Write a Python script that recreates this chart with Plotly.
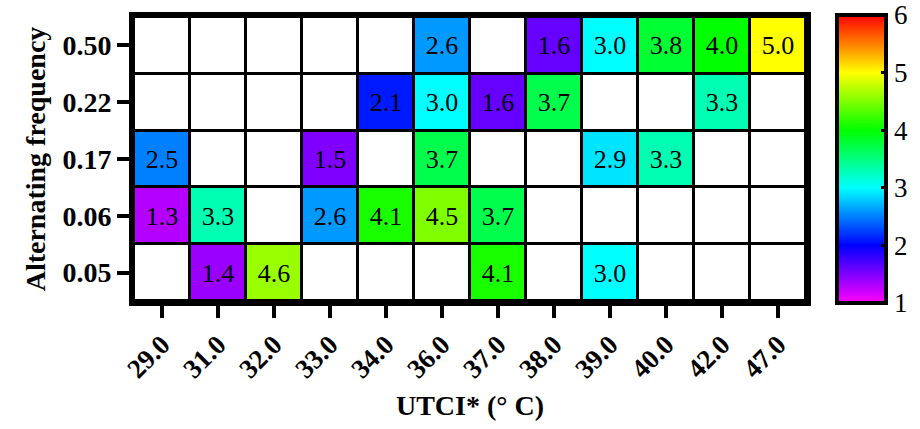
import plotly.graph_objects as go

utci = ["29.0", "31.0", "32.0", "33.0", "34.0", "36.0", "37.0", "38.0", "39.0", "40.0", "42.0", "47.0"]
freq = ["0.05", "0.06", "0.17", "0.22", "0.50"]
N = None
# rows bottom -> top (0.05, 0.06, 0.17, 0.22, 0.50)
z_005 = [N, 1.4, 4.6, N, N, N, 4.1, N, 3.0, N, N, N]
z_006 = [1.3, 3.3, N, 2.6, 4.1, 4.5, 3.7, N, N, N, N, N]
z_017 = [2.5, N, N, 1.5, N, 3.7, N, N, 2.9, 3.3, N, N]
z_022 = [N, N, N, N, 2.1, 3.0, 1.6, 3.7, N, N, 3.3, N]
z_050 = [N, N, N, N, N, 2.6, N, 1.6, 3.0, 3.8, 4.0, 5.0]
z = [z_005, z_006, z_017, z_022, z_050]

cticks = [1, 2, 3, 4, 5, 6]
colors = ["#FF00FF", "#0000FF", "#00FFFF", "#00FF00", "#FFFF00", "#FF0000"]
cscale = [[i / 5, c] for i, c in enumerate(colors)]

serif = "Liberation Serif"

fig = go.Figure()
# white base layer so empty cells appear white with black grid gaps
fig.add_trace(go.Heatmap(
    x=utci, y=freq, z=[[0] * len(utci) for _ in freq],
    colorscale=[[0, "white"], [1, "white"]], showscale=False,
    xgap=3, ygap=3, hoverinfo="skip"))
fig.add_trace(go.Heatmap(
    x=utci, y=freq, z=z, colorscale=cscale, zmin=1, zmax=6,
    xgap=3, ygap=3,
    texttemplate="%{z:.1f}", textfont=dict(family=serif, size=26, color="black"),
    colorbar=dict(
        x=1.046, xanchor="left", xpad=0, y=0.5, yanchor="middle", ypad=0,
        lenmode="pixels", len=288, thickness=49,
        outlinewidth=4, outlinecolor="black",
        tickvals=cticks, ticks="inside", ticklen=7, tickwidth=3, tickcolor="black",
        tickprefix="\u00a0",
        tickfont=dict(family=serif, size=27, color="black"))))

fig.update_layout(
    width=920, height=429,
    margin=dict(l=134, r=114, t=17, b=128, autoexpand=False),
    paper_bgcolor="white", plot_bgcolor="black",
    font=dict(family=serif, color="black"),
    xaxis=dict(
        type="category", showgrid=False, zeroline=False,
        showline=True, linewidth=5, linecolor="black", mirror=True,
        ticks="outside", ticklen=12, tickwidth=4, tickcolor="black",
        tickangle=-45, tickfont=dict(family=serif, size=27, color="black", weight="bold"),
        title=dict(text="UTCI* (° C)", font=dict(family=serif, size=28, color="black", weight="bold"),
                   standoff=14)),
    yaxis=dict(
        type="category", showgrid=False, zeroline=False,
        showline=True, linewidth=5, linecolor="black", mirror=True,
        ticks="outside", ticklen=12, tickwidth=4, tickcolor="black",
        tickfont=dict(family=serif, size=28, color="black", weight="bold"),
        title=dict(text="Alternating frequency", font=dict(family=serif, size=28, color="black", weight="bold"),
                   standoff=10)),
)

fig.write_html("out.html")
